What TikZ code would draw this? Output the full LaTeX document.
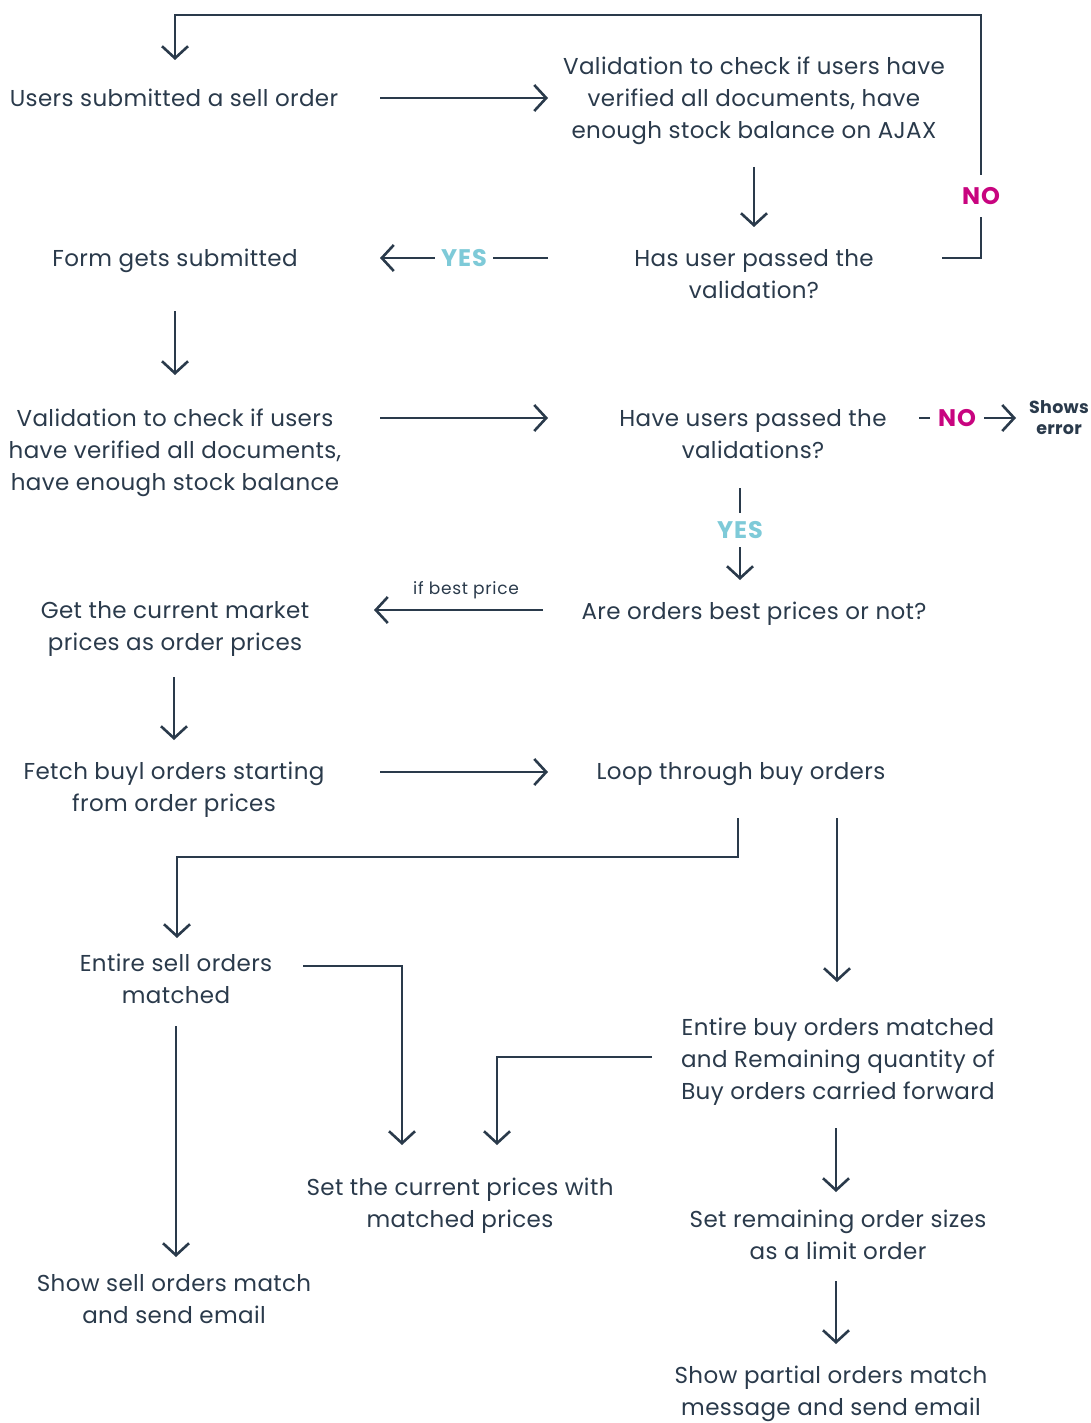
\documentclass[tikz,border=0pt]{standalone}
\usepackage{fontspec}
\setmainfont{Poppins}[LetterSpace=1.6]
\newfontfamily\labfont{Poppins}[LetterSpace=4]
\usetikzlibrary{arrows.meta,calc}
\definecolor{ink}{HTML}{2A3A4B}
\definecolor{yescol}{HTML}{7ECAD8}
\definecolor{nocol}{HTML}{C8047F}
\begin{document}
\begin{tikzpicture}[x=1pt,y=-1pt,
  txt/.style={text=ink, align=center, font=\fontsize{23}{32}\selectfont, inner sep=0pt,
    execute at begin node={\rule{0pt}{26.4pt}}, execute at end node=\strut},
  txtm/.style={txt, yshift=-5pt},
  small/.style={text=ink, align=center, font=\labfont\fontsize{17}{20}\selectfont, inner sep=0pt},
  shows/.style={text=ink, align=center, font=\fontsize{17.5}{21}\selectfont\bfseries, inner sep=0pt},
  arr/.style={draw=ink, line width=2.6pt, -{Straight Barb[length=12pt,width=26pt]}},
  yeslab/.style={text=yescol, font=\labfont\fontsize{24}{26}\selectfont\bfseries, fill=white, inner xsep=6pt, inner ysep=4pt},
  nolab/.style={text=nocol, font=\labfont\fontsize{24}{26}\selectfont\bfseries, fill=white, inner xsep=6pt, inner ysep=4pt},
]
\useasboundingbox (0,0) rectangle (1091,1423);

\node[txt] (n1) at (174,98) {Users submitted a sell order};
\node[txtm] (n2) at (754,98) {Validation to check if users have\\verified all documents, have\\enough stock balance on AJAX};
\node[txtm] (n3) at (754,274) {Has user passed the\\validation?};
\node[txt] (n4) at (175,258) {Form gets submitted};
\node[txtm] (n5) at (175,450) {Validation to check if users\\have verified all documents,\\have enough stock balance};
\node[txtm] (n6) at (753,434) {Have users passed the\\validations?};
\node[shows] (n7) at (1059,418) {Shows\\error};
\node[txt] (n8) at (754,611) {Are orders best prices or not?};
\node[txtm] (n9) at (175,626) {Get the current market\\prices as order prices};
\node[txtm] (n10) at (174,787) {Fetch buyl orders starting\\from order prices};
\node[txt] (n11) at (741,771) {Loop through buy orders};
\node[txtm] (n12) at (176,979) {Entire sell orders\\matched};
\node[txtm] (n13) at (838,1059) {Entire buy orders matched\\and Remaining quantity of\\Buy orders carried forward};
\node[txtm] (n14) at (460,1203) {Set the current prices with\\matched prices};
\node[txtm] (n15) at (838,1235) {Set remaining order sizes\\as a limit order};
\node[txtm] (n16) at (174,1299) {Show sell orders match\\and send email};
\node[txtm] (n17) at (831,1391) {Show partial orders match\\message and send email};

% connectors
\draw[arr] ($(n1)+(206,0)$) -- ($(n2)+(-206,-5)$);
\draw[arr] ($(n2)+(0,64)$) -- ($(n3)+(0,-52)$);
\draw[arr] ($(n3)+(-206,-21)$) -- ($(n4)+(205,0)$) node[pos=0.5, yeslab] (yes1) {YES};
\draw[arr] ($(n3)+(188,-21)$) -| ($(n1)+(807,-83)$) -| ($(n1)+(1,-38)$);
\node[nolab, inner ysep=12pt] (no1) at (981,196) {NO};
\draw[arr] ($(n4)+(0,53)$) -- ($(n5)+(0,-80)$);
\draw[arr] ($(n5)+(205,-37)$) -- ($(n6)+(-205,-21)$);
\draw[arr] ($(n6)+(166,-21)$) -- ($(n7)+(-43,0)$);
\node[nolab, inner xsep=8pt] (no2) at (957,418) {NO};
\draw[arr] ($(n6)+(-13,49)$) -- ($(n8)+(-14,-31)$);
\node[yeslab, inner ysep=8pt, inner xsep=2pt] (yes2) at (740,530) {YES};
\draw[arr] ($(n8)+(-211,-1)$) -- ($(n9)+(199,-21)$);
\node[small] (bp) at (466,590) {if best price};
\draw[arr] ($(n9)+(-1,46)$) -- ($(n10)+(0,-52)$);
\draw[arr] ($(n10)+(206,-20)$) -- ($(n11)+(-193,1)$);
\draw[arr] ($(n11)+(-3,47)$) |- ($(n12)+(1,-127)$) -- ($(n12)+(1,-46)$);
\draw[arr] ($(n11)+(96,47)$) -- ($(n13)+(-1,-82)$);
\draw[arr] ($(n12)+(127,-18)$) -| ($(n14)+(-58,-63)$);
\draw[arr] ($(n13)+(-186,-7)$) -| ($(n14)+(37,-63)$);
\draw[arr] ($(n12)+(0,42)$) -- ($(n16)+(2,-47)$);
\draw[arr] ($(n13)+(-2,64)$) -- ($(n15)+(-2,-48)$);
\draw[arr] ($(n15)+(-2,41)$) -- ($(n17)+(5,-52)$);
\end{tikzpicture}
\end{document}
